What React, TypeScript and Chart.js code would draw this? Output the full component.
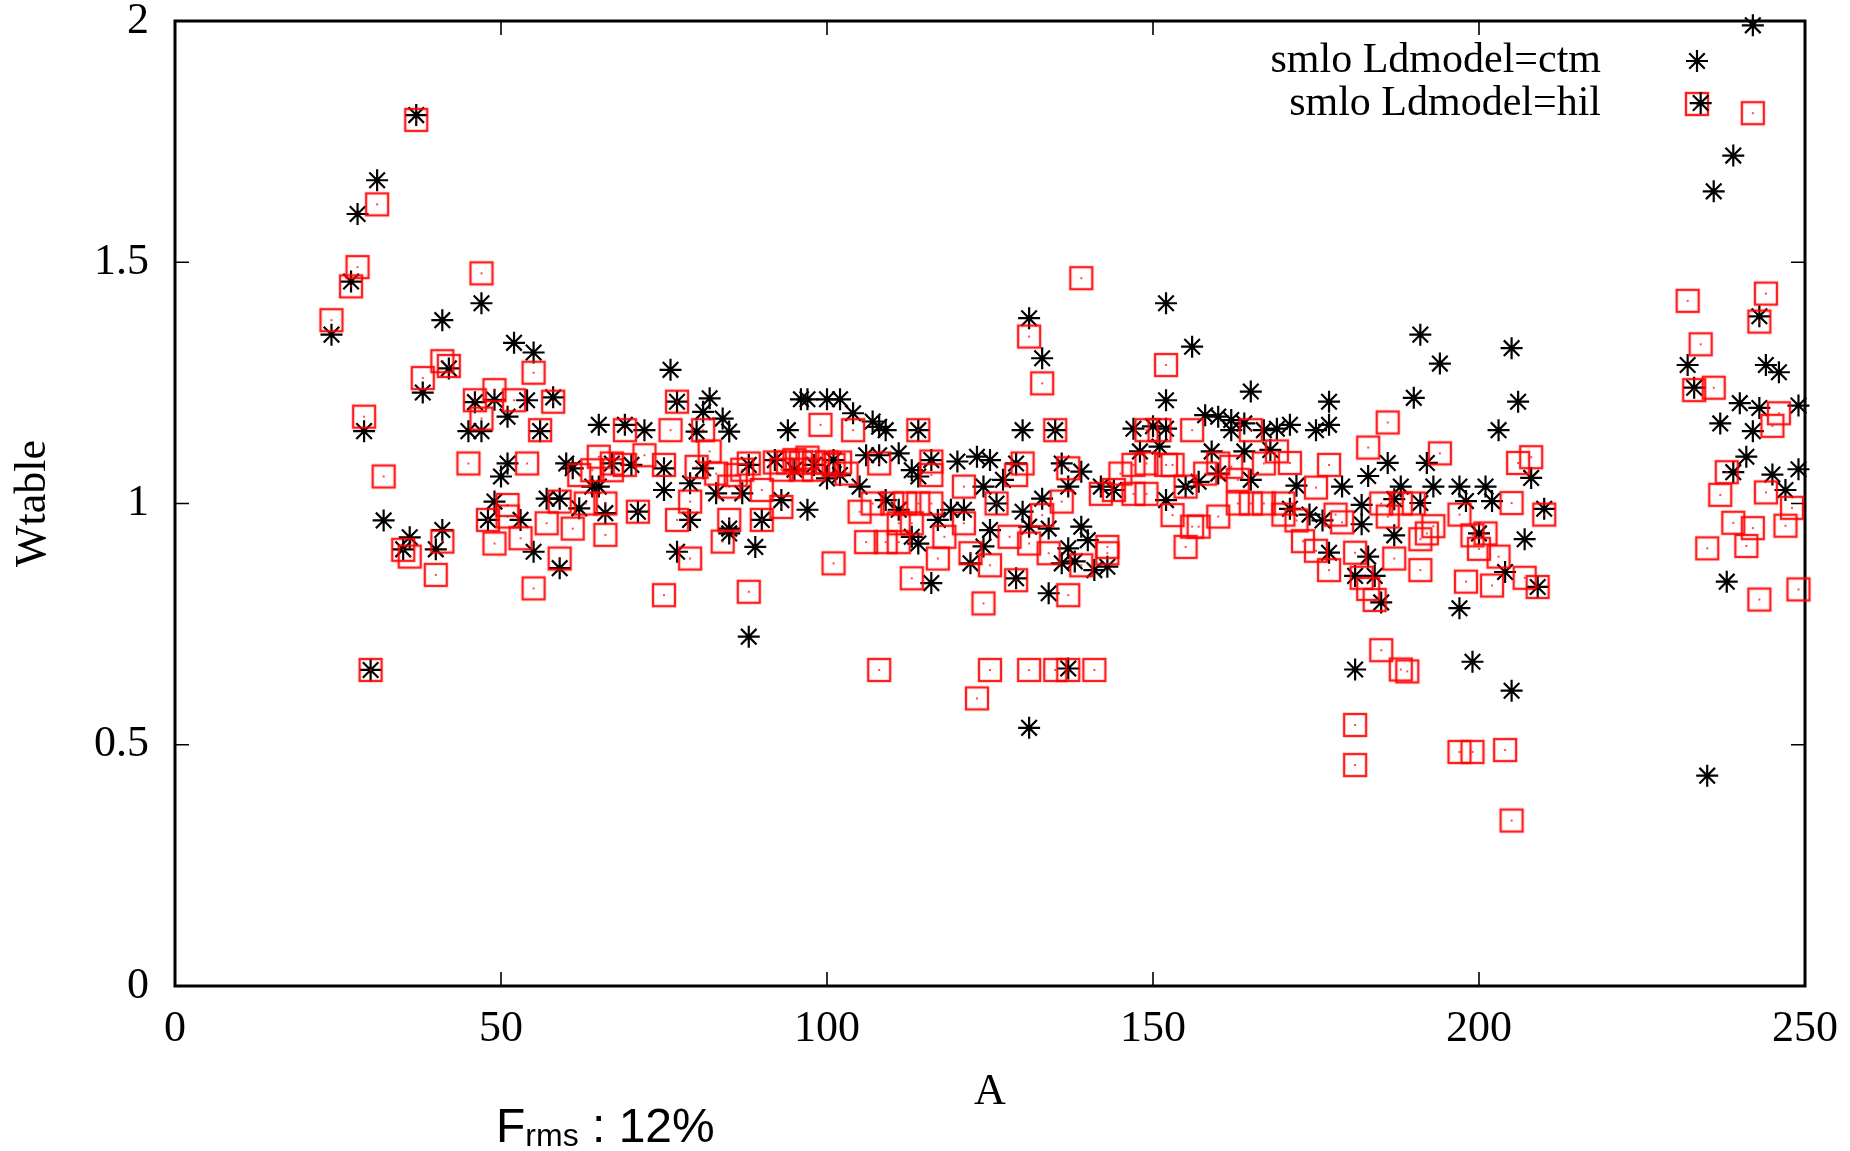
import React, { useEffect, useRef } from 'react';
import { Chart, registerables } from 'chart.js';

Chart.register(...registerables);

// ---------- data ----------
const xTicks: number[] = [0, 50, 100, 150, 200, 250];
const yTicks: number[] = [0, 0.5, 1, 1.5, 2];
const xTitle = 'A';
const yTitle = 'Wtable';
const legendLabels: string[] = ['smlo Ldmodel=ctm', 'smlo Ldmodel=hil'];
const noteMain = 'F';
const noteSub = 'rms';
const noteTail = ' : 12%';

// Ldmodel=ctm  [A, Wtable]
const ctmPoints: [number, number][] = [
  [24, 1.35], [27, 1.46], [28, 1.6], [29, 1.15], [30, 0.655], [31, 1.67], [32, 0.965], [35, 0.905], [36, 0.93], [37, 1.805],
  [38, 1.23], [40, 0.905], [41, 0.945], [41, 1.38], [42, 1.28], [45, 1.15],
  [46, 1.21], [47, 1.415], [47, 1.15], [48, 0.966], [49, 1.215], [49, 1.004], [50, 1.056], [51, 1.18], [51, 1.083], [52, 1.333],
  [53, 0.966], [54, 1.214], [55, 1.313], [55, 0.9], [56, 1.15], [57, 1.01], [58, 1.22], [59, 1.01], [59, 0.866], [60, 1.083],
  [61, 1.073], [62, 0.99], [64, 1.035], [65, 1.163], [65, 1.035], [66, 0.98], [67, 1.083], [69, 1.163], [70, 1.08], [71, 0.983],
  [72, 1.152], [75, 1.073], [75, 1.028], [76, 1.277], [77, 1.211], [77, 0.9], [79, 1.042], [79, 0.966], [80, 1.149], [81, 1.19],
  [81, 1.073], [82, 1.218], [83, 1.021], [84, 1.176], [85, 1.149], [85, 0.948], [85, 0.938],
  [87, 1.021], [88, 1.08], [88, 0.724], [89, 0.91], [90, 0.966], [92, 1.09], [93, 1.007], [94, 1.152], [95, 1.07], [96, 1.216],
  [97, 0.987], [97, 1.216], [98, 1.08], [100, 1.216], [100, 1.052], [101, 1.09], [102, 1.216], [102, 1.059], [104, 1.187], [105, 1.035],
  [106, 1.1], [107, 1.17], [108, 1.1], [108, 1.159], [109, 1.152], [109, 1.007], [111, 1.104], [111, 0.987], [113, 1.069], [113, 0.931],
  [114, 1.056], [114, 1.152], [114, 0.917], [116, 1.09], [116, 0.835], [117, 0.966], [119, 0.987], [120, 1.087], [121, 0.987], [122, 0.876],
  [123, 1.097], [124, 1.035], [124, 0.911], [125, 1.09], [125, 0.945], [126, 1.0],
  [127, 1.049], [129, 1.083], [129, 0.845], [130, 1.152], [130, 0.983], [131, 1.384], [131, 0.952], [131, 0.535], [133, 1.301], [133, 1.01],
  [134, 0.948], [134, 0.814], [135, 1.152], [136, 1.083], [136, 0.876], [137, 1.035], [137, 0.907], [137, 0.658], [138, 0.88], [139, 1.066],
  [139, 0.952], [140, 0.924], [141, 0.862], [142, 1.035], [143, 0.869], [144, 1.028], [147, 1.155], [148, 1.108], [150, 1.16], [151, 1.118],
  [152, 1.155], [152, 1.415], [152, 1.214], [152, 1.007], [155, 1.035], [156, 1.325], [157, 1.045], [158, 1.183], [159, 1.108], [160, 1.062],
  [160, 1.18], [162, 1.173], [162, 1.152], [164, 1.166], [164, 1.108], [165, 1.232], [165, 1.049], [167, 1.152], [168, 1.111],
  [169, 1.155], [171, 1.163], [171, 0.989], [172, 1.037], [174, 0.977], [175, 1.152], [176, 0.965], [177, 1.211], [177, 1.163], [177, 0.898],
  [179, 1.035], [181, 0.85], [181, 0.656], [182, 0.997], [182, 0.957], [183, 1.057], [183, 0.89], [184, 0.85], [185, 0.795], [186, 1.084],
  [187, 0.934], [187, 1.009], [188, 1.035], [190, 1.219], [191, 1.001], [191, 1.35], [192, 1.084], [193, 1.035], [194, 1.29], [197, 1.035],
  [197, 0.783], [198, 1.005], [199, 0.672], [200, 0.938], [201, 1.035], [202, 1.005], [203, 1.152], [204, 0.858], [205, 1.322], [205, 0.612],
  [206, 1.211], [207, 0.926], [208, 1.053], [209, 0.827], [210, 0.989],
  [232, 1.287], [233, 1.24], [234, 1.83], [235, 0.436], [236, 1.647], [237, 1.166], [238, 0.838], [239, 1.721], [239, 1.065], [240, 1.208],
  [241, 1.097], [242, 1.991], [242, 1.15], [243, 1.388], [243, 1.198], [244, 1.287], [245, 1.06], [246, 1.272], [247, 1.028], [249, 1.203],
  [249, 1.071],
];

// Ldmodel=hil  [A, Wtable]
const hilPoints: [number, number][] = [
  [24, 1.38], [27, 1.45], [28, 1.49], [29, 1.18], [30, 0.655], [31, 1.62], [32, 1.056], [35, 0.904], [36, 0.89], [37, 1.795],
  [38, 1.26], [40, 0.852], [41, 0.921], [41, 1.295], [42, 1.285], [45, 1.083],
  [46, 1.214], [47, 1.176], [47, 1.477], [48, 0.966], [49, 1.235], [49, 0.917], [51, 0.997], [51, 0.973], [52, 1.214], [53, 0.928],
  [54, 1.083], [55, 1.271], [55, 0.824], [56, 1.152], [57, 0.959], [58, 1.211], [59, 1.004], [59, 0.886],
  [61, 0.948], [62, 1.059], [63, 1.0], [64, 1.069], [65, 1.097], [66, 0.935], [66, 1.0], [67, 1.083], [67, 1.069], [69, 1.152],
  [69, 1.08], [71, 0.983], [72, 1.1], [75, 1.08], [75, 0.81], [76, 1.152], [77, 1.211], [77, 0.966], [79, 1.004], [79, 0.886],
  [80, 1.076], [81, 1.152], [82, 1.108], [83, 1.062], [84, 0.921], [85, 1.035], [85, 0.966], [86, 1.059], [87, 1.07], [88, 1.083],
  [88, 0.817], [90, 1.028], [90, 0.966],
  [92, 1.085], [93, 1.07], [93, 0.993], [94, 1.085], [95, 1.09], [96, 1.085], [96, 1.07], [97, 1.095], [98, 1.085], [98, 1.07],
  [99, 1.163], [100, 1.085], [101, 0.876], [101, 1.08], [102, 1.085], [103, 1.062], [104, 1.152], [105, 0.983], [106, 0.92], [107, 1.0],
  [108, 1.083], [108, 0.655], [109, 0.92], [110, 1.0], [111, 0.959], [111, 0.92], [112, 1.0], [113, 0.959], [113, 0.845], [114, 1.0],
  [114, 1.152], [116, 1.087], [116, 1.059], [116, 1.0], [117, 0.886], [118, 0.931], [121, 1.035], [121, 0.959], [122, 0.897], [123, 0.596],
  [124, 0.793], [125, 0.872], [125, 0.655],
  [126, 1.0], [128, 0.931], [129, 1.059], [129, 0.841], [130, 1.083], [131, 1.346], [131, 0.917], [131, 0.655], [133, 1.249], [133, 0.976],
  [134, 0.897], [135, 1.152], [135, 0.655], [136, 1.004], [137, 1.073], [137, 0.81], [137, 0.655], [139, 1.467], [139, 0.872], [141, 0.655],
  [142, 1.02], [143, 0.91], [143, 0.897], [144, 1.028], [145, 1.062], [147, 1.08], [147, 1.02], [149, 1.152], [149, 1.083], [149, 1.02],
  [151, 1.152], [152, 1.08], [152, 1.287], [153, 1.08], [153, 0.976], [155, 1.035], [155, 0.91], [156, 1.152], [156, 0.952], [157, 0.952],
  [158, 1.062], [160, 1.083], [160, 0.973], [162, 1.076], [163, 1.049], [163, 1.0], [165, 1.152], [165, 1.0], [167, 1.083], [167, 1.0],
  [169, 1.108], [170, 1.0],
  [171, 1.084], [170, 0.977], [172, 0.965], [173, 0.922], [175, 1.033], [175, 0.902], [177, 1.08], [177, 0.862], [178, 0.977], [179, 0.961],
  [181, 0.898], [181, 0.541], [181, 0.458], [182, 0.846], [183, 1.116], [183, 0.823], [184, 0.8], [185, 1.0], [185, 0.696], [186, 1.168],
  [186, 0.973], [187, 0.886], [188, 1.0], [188, 0.656], [189, 0.652], [190, 1.0], [191, 0.926], [191, 0.862], [192, 0.938], [193, 0.953],
  [194, 1.104], [197, 0.977], [197, 0.485], [198, 0.838], [199, 0.934], [199, 0.485], [200, 0.906], [201, 0.938], [202, 0.83], [203, 0.89],
  [204, 0.489], [205, 1.001], [205, 0.343], [206, 1.084], [207, 0.846], [208, 1.096], [209, 0.827], [210, 0.977],
  [232, 1.42], [233, 1.235], [234, 1.33], [235, 0.907], [236, 1.24], [237, 1.018], [238, 1.065], [239, 0.96], [241, 0.912], [242, 1.809],
  [242, 0.949], [243, 1.377], [243, 0.801], [244, 1.435], [244, 1.023], [245, 1.161], [246, 1.187], [247, 0.954], [248, 0.991], [249, 0.822],
];

// ---------- styles ----------
const SERIF = '"Liberation Serif", "Times New Roman", serif';
const FONT_SIZE = 44;
const RED = 'rgba(255,0,0,0.88)';

function makeSquare(): HTMLCanvasElement {
  const c = document.createElement('canvas');
  c.width = 28;
  c.height = 28;
  const g = c.getContext('2d')!;
  g.strokeStyle = RED;
  g.lineWidth = 2.4;
  g.strokeRect(3, 3, 22, 22);
  g.fillStyle = 'rgba(255,0,0,0.7)';
  g.fillRect(13, 13, 2, 2);
  return c;
}

function drawStar(ctx: CanvasRenderingContext2D, x: number, y: number, r: number) {
  ctx.save();
  ctx.strokeStyle = '#000';
  ctx.lineWidth = 2.2;
  ctx.beginPath();
  ctx.moveTo(x - r, y); ctx.lineTo(x + r, y);
  ctx.moveTo(x, y - r); ctx.lineTo(x, y + r);
  const d = r * Math.SQRT1_2;
  ctx.moveTo(x - d, y - d); ctx.lineTo(x + d, y + d);
  ctx.moveTo(x - d, y + d); ctx.lineTo(x + d, y - d);
  ctx.stroke();
  ctx.restore();
}

export default function App() {
  const canvasRef = useRef<HTMLCanvasElement | null>(null);

  useEffect(() => {
    const canvas = canvasRef.current;
    if (!canvas) return;
    const square = makeSquare();

    const framePlugin = {
      id: 'gpFrame',
      beforeDatasetsDraw(chart: any) {
        const { ctx, chartArea: a, scales } = chart;
        const tl = 14;
        ctx.save();
        ctx.strokeStyle = '#000';
        ctx.lineWidth = 1.6;
        ctx.beginPath();
        xTicks.forEach((v) => {
          const px = scales.x.getPixelForValue(v);
          ctx.moveTo(px, a.bottom); ctx.lineTo(px, a.bottom - tl);
          ctx.moveTo(px, a.top); ctx.lineTo(px, a.top + tl);
        });
        yTicks.forEach((v) => {
          const py = scales.y.getPixelForValue(v);
          ctx.moveTo(a.left, py); ctx.lineTo(a.left + tl, py);
          ctx.moveTo(a.right, py); ctx.lineTo(a.right - tl, py);
        });
        ctx.stroke();
        ctx.lineWidth = 3;
        ctx.strokeRect(a.left, a.top, a.right - a.left, a.bottom - a.top);

        // key (legend), gnuplot style: text right-aligned, symbol to the right
        ctx.font = `42px ${SERIF}`;
        ctx.fillStyle = '#000';
        ctx.textAlign = 'right';
        ctx.textBaseline = 'middle';
        const textRight = a.right - 204;
        const symX = a.right - 108;
        const rows = [a.top + 40, a.top + 83];
        ctx.fillText(legendLabels[0], textRight, rows[0]);
        ctx.fillText(legendLabels[1], textRight, rows[1]);
        drawStar(ctx, symX, rows[0], 11);
        ctx.drawImage(square, symX - square.width / 2, rows[1] - square.height / 2);
        ctx.restore();
      },
    };

    const tickFont = { family: SERIF, size: FONT_SIZE };
    const zeroPad = (s: any) => {
      s.paddingTop = 0;
      s.paddingBottom = 0;
      s.paddingLeft = 0;
      s.paddingRight = 0;
    };

    const chart = new Chart(canvas, {
      type: 'scatter',
      data: {
        datasets: [
          {
            label: legendLabels[0],
            data: ctmPoints.map(([x, y]) => ({ x, y })),
            pointStyle: 'star',
            radius: 11,
            borderColor: '#000',
            backgroundColor: '#000',
            borderWidth: 2.2,
            order: 2,
            clip: false,
          },
          {
            label: legendLabels[1],
            data: hilPoints.map(([x, y]) => ({ x, y })),
            pointStyle: square,
            radius: 14,
            borderColor: RED,
            backgroundColor: RED,
            order: 1,
            clip: false,
          },
        ],
      },
      options: {
        animation: false,
        responsive: false,
        maintainAspectRatio: false,
        events: [],
        layout: { padding: { top: 21, right: 45, left: 0, bottom: 0 } },
        plugins: { legend: { display: false }, tooltip: { enabled: false } },
        scales: {
          x: {
            type: 'linear',
            min: 0,
            max: 250,
            afterBuildTicks: (s: any) => { s.ticks = xTicks.map((v) => ({ value: v })); },
            afterFit: (s: any) => { s.height = 165; zeroPad(s); },
            grid: { display: false, drawTicks: false },
            border: { display: false },
            ticks: { font: tickFont, color: '#000', padding: 17, maxRotation: 0, autoSkip: false, callback: (v: any) => String(v) },
            title: { display: true, text: xTitle, font: tickFont, color: '#000', padding: { top: 0, bottom: 32 } },
          },
          y: {
            type: 'linear',
            min: 0,
            max: 2,
            afterBuildTicks: (s: any) => { s.ticks = yTicks.map((v) => ({ value: v })); },
            afterFit: (s: any) => { s.width = 175; zeroPad(s); },
            grid: { display: false, drawTicks: false },
            border: { display: false },
            ticks: { font: tickFont, color: '#000', padding: 26, autoSkip: false, callback: (v: any) => String(v) },
            title: { display: true, text: yTitle, font: tickFont, color: '#000', padding: { top: 7, bottom: 0 } },
          },
        },
      },
      plugins: [framePlugin],
    } as any);

    return () => chart.destroy();
  }, []);

  return (
    <div style={{ position: 'absolute', left: 0, top: 0, width: 1850, height: 1151, overflow: 'hidden', background: '#fff' }}>
      <canvas ref={canvasRef} width={1850} height={1151} style={{ width: 1850, height: 1151, display: 'block' }} />
      <div
        style={{
          position: 'absolute',
          left: 496,
          top: 1102,
          fontFamily: '"Liberation Sans", Arial, sans-serif',
          fontSize: 48,
          lineHeight: '48px',
          color: '#000',
          whiteSpace: 'pre',
        }}
      >
        {noteMain}
        <span style={{ fontSize: 32, verticalAlign: '-0.12em' }}>{noteSub}</span>
        {noteTail}
      </div>
    </div>
  );
}
